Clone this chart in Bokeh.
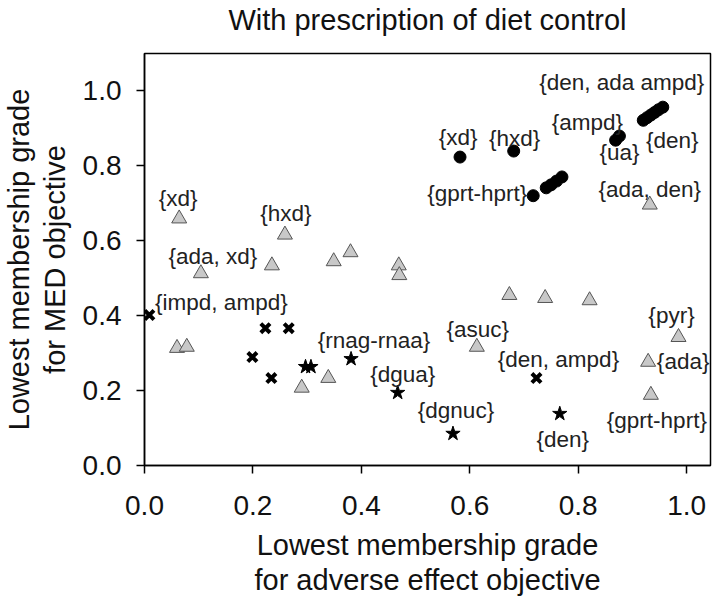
from bokeh.plotting import figure
from bokeh.models import ColumnDataSource, Range1d, FixedTicker, LinearAxis
from bokeh.core.properties import value
from bokeh.embed import file_html
from bokeh.resources import INLINE

FONT = "Liberation Sans"

# ---- data ----
circle_x = [0.582, 0.681, 0.717, 0.741, 0.750, 0.760, 0.770, 0.869, 0.876,
            0.920, 0.927, 0.934, 0.941, 0.948, 0.956]
circle_y = [0.822, 0.838, 0.719, 0.740, 0.748, 0.758, 0.769, 0.867, 0.878,
            0.920, 0.927, 0.934, 0.941, 0.948, 0.955]

tri_x = [0.064, 0.259, 0.104, 0.235, 0.349, 0.380, 0.469, 0.470, 0.060, 0.078,
         0.290, 0.339, 0.673, 0.739, 0.821, 0.613, 0.985, 0.929, 0.934, 0.932]
tri_y = [0.658, 0.615, 0.512, 0.533, 0.544, 0.568, 0.533, 0.507, 0.313, 0.316,
         0.207, 0.233, 0.454, 0.446, 0.440, 0.316, 0.342, 0.276, 0.188, 0.695]

cross_x = [0.009, 0.223, 0.266, 0.199, 0.234, 0.723]
cross_y = [0.401, 0.366, 0.366, 0.289, 0.233, 0.233]

star_x = [0.297, 0.307, 0.381, 0.467, 0.569, 0.766]
star_y = [0.263, 0.263, 0.284, 0.194, 0.085, 0.138]

x_ticks = [0.0, 0.2, 0.4, 0.6, 0.8, 1.0]
x_tick_labels = ["0.0", "0.2", "0.4", "0.6", "0.8", "1.0"]
y_ticks = [0.0, 0.2, 0.4, 0.6, 0.8, 1.0]
y_tick_labels = ["0.0", "0.2", "0.4", "0.6", "0.8", "1.0"]

TITLE = "With prescription of diet control"

# labels: text, series, index of the point in that series
label_text = ["{den, ada ampd}", "{den}", "{ampd}", "{ua}", "{xd}", "{hxd}",
              "{gprt-hprt}", "{ada, den}", "{xd}", "{hxd}", "{ada, xd}",
              "{asuc}", "{pyr}", "{ada}", "{gprt-hprt}", "{impd, ampd}",
              "{den, ampd}", "{rnag-rnaa}", "{dgua}", "{dgnuc}", "{den}"]
label_series = ["c", "c", "c", "c", "c", "c", "c", "t", "t", "t", "t",
                "t", "t", "t", "t", "x", "x", "s", "s", "s", "s"]
label_index = [14, 9, 8, 8, 0, 1, 2, 19, 0, 1, 2, 15, 16, 17, 18, 0, 5, 2, 3, 4, 5]
# pixel offsets of each label from its point (layout, not data)
label_dx = [-41, 29, -32, 0, -2, 1, -56, 0, -1, 1, 12, 1, -7, 35, 6, 72, 22, 23, 5, 3, 3]
label_dy = [-25, 20, -14, 16, -20, -13, -2, -15, -20, -21, -17, -17, -22, 0, 26, -13, -19, -18, -18, -23, 26]

series = {"c": (circle_x, circle_y), "t": (tri_x, tri_y),
          "x": (cross_x, cross_y), "s": (star_x, star_y)}
lx = [series[s][0][i] for s, i in zip(label_series, label_index)]
ly = [series[s][1][i] for s, i in zip(label_series, label_index)]

p = figure(width=714, height=602,
           x_range=Range1d(0, 1.044), y_range=Range1d(0, 1.098),
           output_backend="svg", toolbar_location=None,
           min_border_left=138, min_border_right=4,
           min_border_top=51, min_border_bottom=137)

xax = p.below[0]
yax = p.left[0]

# chart title: carried by a tick-less axis above the frame
title_axis = LinearAxis(ticker=FixedTicker(ticks=[]), axis_line_color=None,
                        major_tick_out=0, major_tick_in=0,
                        minor_tick_out=0, minor_tick_in=0,
                        major_label_standoff=0,
                        major_label_text_font_size="0px",
                        axis_label=TITLE, axis_label_text_font=FONT,
                        axis_label_text_font_size="29px",
                        axis_label_text_font_style="normal",
                        axis_label_text_color="#111111",
                        axis_label_standoff=18)
p.add_layout(title_axis, "above")

p.grid.visible = False
p.outline_line_color = "black"
p.outline_line_width = 1.5
p.background_fill_color = "white"
p.border_fill_color = "white"

for ax in (xax, yax):
    ax.major_label_text_font = FONT
    ax.major_label_text_font_size = "28px"
    ax.major_label_text_color = "#111111"
    ax.axis_label_text_font = FONT
    ax.axis_label_text_font_size = "29px"
    ax.axis_label_text_font_style = "normal"
    ax.axis_label_text_color = "#111111"
    ax.axis_label_text_line_height = 1.1
    ax.axis_line_color = "black"
    ax.axis_line_width = 1.5
    ax.major_tick_line_color = "black"
    ax.major_tick_line_width = 1.5
    ax.major_tick_out = 8
    ax.major_tick_in = 0
    ax.minor_tick_line_color = None

xax.ticker = FixedTicker(ticks=x_ticks)
xax.major_label_overrides = dict(zip(x_ticks, x_tick_labels))
yax.ticker = FixedTicker(ticks=y_ticks)
yax.major_label_overrides = dict(zip(y_ticks, y_tick_labels))
xax.axis_label = "Lowest membership grade\nfor adverse effect objective"
yax.axis_label = "Lowest membership grade\nfor MED objective"
xax.major_label_standoff = 22
yax.major_label_standoff = 15
xax.axis_label_standoff = 11
yax.axis_label_standoff = 9

p.scatter(tri_x, tri_y, marker="triangle", size=15,
          fill_color="#c8c8c8", line_color="#555555", line_width=1)
p.scatter(circle_x, circle_y, marker="circle", size=12,
          fill_color="black", line_color="black")
p.scatter(cross_x, cross_y, marker="x", size=13,
          line_color="black", line_width=4)
p.scatter(star_x, star_y, marker="star", size=15,
          fill_color="black", line_color="black")

lsrc = ColumnDataSource(dict(x=lx, y=ly, text=label_text, dx=label_dx, dy=label_dy))
p.text(x="x", y="y", text="text", source=lsrc, x_offset="dx", y_offset="dy",
       text_font=value(FONT), text_font_size="22.5px", text_color="#222222",
       text_align="center", text_baseline="middle")

open("out.html", "w").write(file_html(p, INLINE))
